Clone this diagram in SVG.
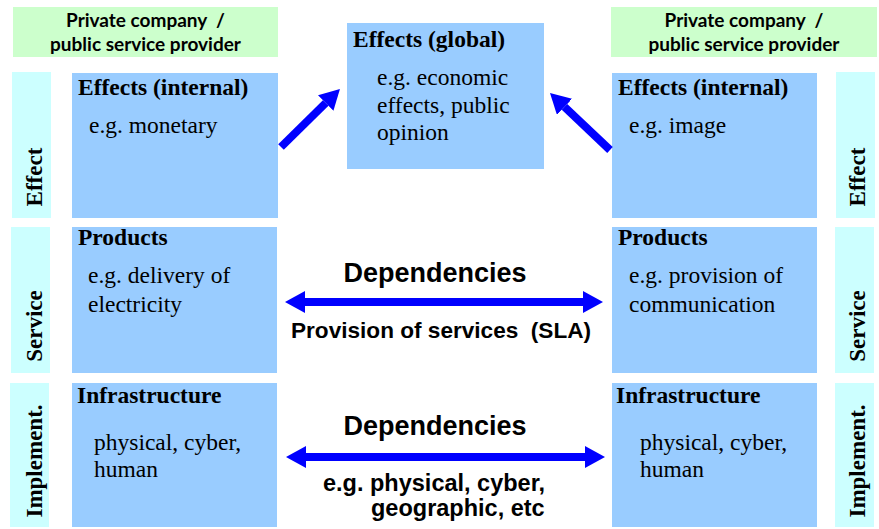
<svg xmlns="http://www.w3.org/2000/svg" width="879" height="529" viewBox="0 0 879 529">
  <defs>
    <style>
      .hdr { fill: #ccffcc; }
      .side { fill: #ccffff; }
      .box { fill: #99ccff; }
      .hdr-t { font-family: Lato, "Open Sans", sans-serif; font-weight: bold; font-size: 19px; fill: #000; text-anchor: middle; }
      .ttl { font-family: "Liberation Serif", "Times New Roman", serif; font-weight: bold; font-size: 23.5px; fill: #000; }
      .body { font-family: "Liberation Serif", "Times New Roman", serif; font-size: 23.5px; fill: #000; }
      .side-t { font-family: "Liberation Serif", "Times New Roman", serif; font-weight: bold; font-size: 23px; fill: #000; text-anchor: middle; }
      .dep { font-family: "Liberation Sans", Arial, sans-serif; font-weight: bold; font-size: 27px; fill: #000; text-anchor: middle; }
      .lbl { font-family: "Liberation Sans", Arial, sans-serif; font-weight: bold; font-size: 23.5px; fill: #000; }
      .arr { stroke: #0000ff; stroke-width: 8; fill: none; }
    </style>
    <marker id="head" viewBox="0 -11 20 22" markerUnits="userSpaceOnUse" markerWidth="20" markerHeight="22" refX="0" refY="0" orient="auto-start-reverse">
      <path d="M0,-11 L20,0 L0,11 z" fill="#0000ff"/>
    </marker>
  </defs>

  <rect width="879" height="529" fill="#ffffff"/>

  <!-- left provider -->
  <g id="provider-left">
    <rect class="hdr" x="13" y="7" width="265" height="50"/>
    <text class="hdr-t" x="145.5" y="27" xml:space="preserve">Private company  /</text>
    <text class="hdr-t" x="145.5" y="51">public service provider</text>
  </g>

  <!-- right provider -->
  <g id="provider-right">
    <rect class="hdr" x="611" y="7" width="266" height="50"/>
    <text class="hdr-t" x="744" y="27" xml:space="preserve">Private company  /</text>
    <text class="hdr-t" x="744" y="51">public service provider</text>
  </g>

  <!-- layer labels, left -->
  <g id="layer-effect-left">
    <rect class="side" x="12" y="72" width="39" height="146"/>
    <text class="side-t" transform="translate(42,177) rotate(-90)">Effect</text>
  </g>
  <g id="layer-service-left">
    <rect class="side" x="11" y="227" width="39" height="146"/>
    <text class="side-t" transform="translate(42,326) rotate(-90)">Service</text>
  </g>
  <g id="layer-impl-left">
    <rect class="side" x="10" y="383" width="39" height="144"/>
    <text class="side-t" transform="translate(42,461) rotate(-90)">Implement.</text>
  </g>

  <!-- layer labels, right -->
  <g id="layer-effect-right">
    <rect class="side" x="836" y="72" width="39" height="146"/>
    <text class="side-t" transform="translate(865,177) rotate(-90)">Effect</text>
  </g>
  <g id="layer-service-right">
    <rect class="side" x="835" y="227" width="39" height="146"/>
    <text class="side-t" transform="translate(865,326) rotate(-90)">Service</text>
  </g>
  <g id="layer-impl-right">
    <rect class="side" x="835" y="383" width="39" height="144"/>
    <text class="side-t" transform="translate(865,461) rotate(-90)">Implement.</text>
  </g>

  <!-- left column boxes -->
  <g id="effects-internal-left">
    <rect class="box" x="72" y="73" width="206" height="145"/>
    <text class="ttl" x="78" y="95">Effects (internal)</text>
    <text class="body" x="89" y="133">e.g. monetary</text>
  </g>
  <g id="products-left">
    <rect class="box" x="72" y="227" width="205" height="146"/>
    <text class="ttl" x="78" y="245">Products</text>
    <text class="body" x="88" y="283">e.g. delivery of</text>
    <text class="body" x="88" y="312">electricity</text>
  </g>
  <g id="infrastructure-left">
    <rect class="box" x="72" y="383" width="205" height="144"/>
    <text class="ttl" x="77" y="403">Infrastructure</text>
    <text class="body" x="94" y="450">physical, cyber,</text>
    <text class="body" x="94" y="477">human</text>
  </g>

  <!-- right column boxes -->
  <g id="effects-internal-right">
    <rect class="box" x="612" y="73" width="205" height="145"/>
    <text class="ttl" x="618" y="95">Effects (internal)</text>
    <text class="body" x="629" y="133">e.g. image</text>
  </g>
  <g id="products-right">
    <rect class="box" x="612" y="227" width="205" height="146"/>
    <text class="ttl" x="618" y="245">Products</text>
    <text class="body" x="629" y="283">e.g. provision of</text>
    <text class="body" x="629" y="312">communication</text>
  </g>
  <g id="infrastructure-right">
    <rect class="box" x="612" y="383" width="205" height="144"/>
    <text class="ttl" x="616" y="403">Infrastructure</text>
    <text class="body" x="640" y="450">physical, cyber,</text>
    <text class="body" x="640" y="477">human</text>
  </g>

  <!-- global effects -->
  <g id="effects-global">
    <rect class="box" x="347" y="23" width="197" height="146"/>
    <text class="ttl" x="353" y="47">Effects (global)</text>
    <text class="body" x="377" y="85">e.g. economic</text>
    <text class="body" x="377" y="113">effects, public</text>
    <text class="body" x="377" y="140">opinion</text>
  </g>

  <!-- connectors -->
  <g id="connectors">
    <line class="arr" x1="281" y1="147" x2="325.7" y2="103" marker-end="url(#head)"/>
    <line class="arr" x1="610" y1="150" x2="564.5" y2="106.8" marker-end="url(#head)"/>
    <line class="arr" x1="305" y1="302" x2="583" y2="302" marker-start="url(#head)" marker-end="url(#head)"/>
    <line class="arr" x1="306" y1="457" x2="585" y2="457" marker-start="url(#head)" marker-end="url(#head)"/>
  </g>

  <!-- connector labels -->
  <g id="service-dependency-labels">
    <text class="dep" x="435" y="282">Dependencies</text>
    <text class="lbl" x="291" y="338" style="font-size:22.6px" xml:space="preserve">Provision of services  (SLA)</text>
  </g>
  <g id="infrastructure-dependency-labels">
    <text class="dep" x="435" y="435">Dependencies</text>
    <text class="lbl" x="323" y="491">e.g. physical, cyber,</text>
    <text class="lbl" x="371" y="516">geographic, etc</text>
  </g>
</svg>
